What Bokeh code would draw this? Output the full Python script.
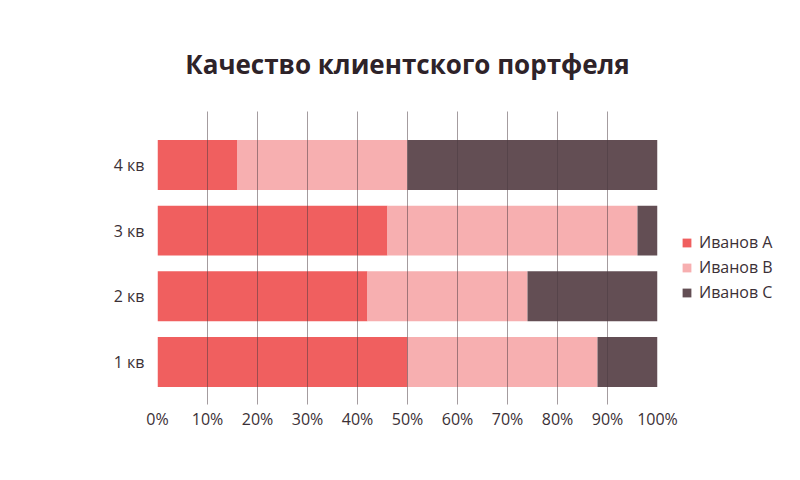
from bokeh.plotting import figure
from bokeh.models import Range1d, FixedTicker, PrintfTickFormatter, Legend, LegendItem, ColumnDataSource
from bokeh.embed import file_html
from bokeh.resources import INLINE

quarters = ["1 кв", "2 кв", "3 кв", "4 кв"]
ivanov_a = [50, 42, 46, 16]
ivanov_b = [38, 32, 50, 34]
ivanov_c = [12, 26, 4, 50]
series = ["Иванов А", "Иванов В", "Иванов С"]
colors = ["#f05f5f", "#f7afb0", "#634e54"]
x_ticks = list(range(0, 101, 10))

ypos = list(range(len(quarters)))
src = ColumnDataSource(dict(y=ypos, a=ivanov_a, b=ivanov_b, c=ivanov_c))

FONT = "Open Sans"
TXT = "#3b3036"

p = figure(frame_width=500, frame_height=293, output_backend="svg", toolbar_location=None,
           x_range=Range1d(0, 100), y_range=Range1d(-0.647, 3.814),
           min_border_left=157, min_border_right=143, min_border_top=111, min_border_bottom=76,
           outline_line_color=None)

rs = p.hbar_stack(["a", "b", "c"], y="y", height=0.76, color=colors, line_color=None, source=src)

p.title.text = "Качество клиентского портфеля"
p.title.align = "center"
p.title.text_font = FONT
p.title.text_font_size = "26px"
p.title.text_font_style = "bold"
p.title.text_color = "#2e2329"
p.title.standoff = 60

p.xaxis.ticker = FixedTicker(ticks=x_ticks)
p.xaxis.formatter = PrintfTickFormatter(format="%d%%")
p.yaxis.ticker = FixedTicker(ticks=ypos)
p.yaxis.major_label_overrides = {i: q for i, q in zip(ypos, quarters)}
for ax in (p.xaxis, p.yaxis):
    ax.axis_line_color = None
    ax.major_tick_line_color = None
    ax.minor_tick_line_color = None
    ax.major_tick_out = 0
    ax.major_tick_in = 0
    ax.major_label_text_font = FONT
    ax.major_label_text_font_size = "16px"
    ax.major_label_text_color = TXT
p.xaxis.major_label_standoff = 3
p.yaxis.major_label_standoff = 13

p.ygrid.grid_line_color = None
p.xgrid.ticker = FixedTicker(ticks=x_ticks[1:-1])
p.xgrid.grid_line_color = "#4a3a40"
p.xgrid.grid_line_alpha = 0.5
p.xgrid.level = "overlay"

legend = Legend(items=[LegendItem(label=s, renderers=[r]) for s, r in zip(series, rs)],
                location=(24, 101), orientation="vertical",
                glyph_width=11, glyph_height=11, label_height=20, spacing=3,
                label_standoff=7, padding=0, margin=0,
                border_line_color=None, background_fill_alpha=0,
                label_text_font=FONT, label_text_font_size="16px", label_text_color=TXT)
p.add_layout(legend, "right")

open("out.html", "w").write(file_html(p, INLINE))
